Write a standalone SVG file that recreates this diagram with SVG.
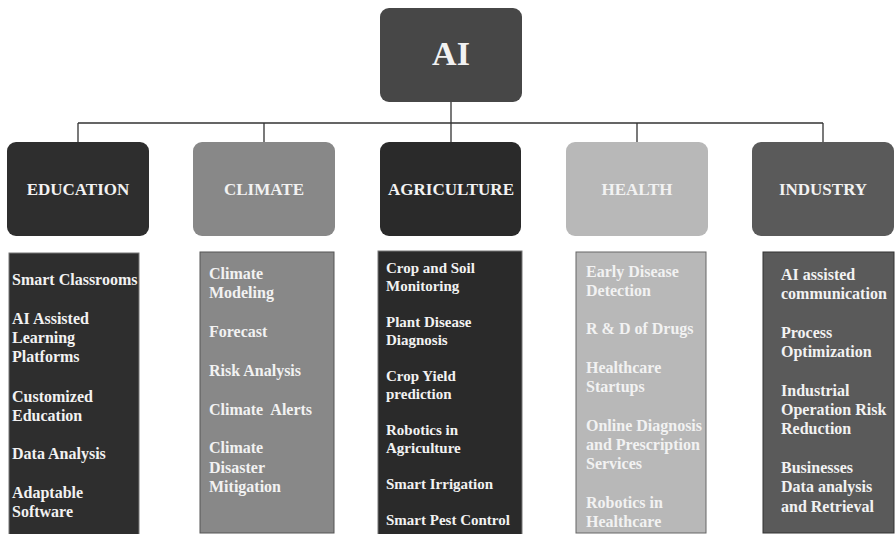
<svg xmlns="http://www.w3.org/2000/svg" width="895" height="534" viewBox="0 0 895 534">
<style>
text{font-family:"Liberation Serif","Times New Roman",serif;font-weight:bold;fill:#f2f2f2}
.cat{font-size:17px;text-anchor:middle}
.l16{font-size:16px}
.l15{font-size:15px}
.conn{stroke:#333;stroke-width:1.3;fill:none}
.list{stroke:#777;stroke-width:1}
</style>
<rect width="895" height="534" fill="#fff"/>
<g id="connectors">
<path class="conn" d="M451,102V123M78,123H823M78,123V142M264,123V142M451,123V142M637,123V142M823,123V142"/>
</g>
<g id="ai">
<rect x="380" y="8" width="142" height="94" rx="9" fill="#474747"/>
<text x="451" y="65" text-anchor="middle" style="font-size:34px">AI</text>
</g>
<g id="education">
<rect x="7" y="142" width="142" height="94" rx="9" fill="#2e2e2e"/>
<text class="cat" x="78" y="195">EDUCATION</text>
</g>
<g id="climate">
<rect x="193" y="142" width="142" height="94" rx="9" fill="#888888"/>
<text class="cat" x="264" y="195">CLIMATE</text>
</g>
<g id="agriculture">
<rect x="380" y="142" width="141" height="94" rx="9" fill="#2a2a2a"/>
<text class="cat" x="451" y="195">AGRICULTURE</text>
</g>
<g id="health">
<rect x="566" y="142" width="142" height="94" rx="9" fill="#b8b8b8"/>
<text class="cat" x="637" y="195">HEALTH</text>
</g>
<g id="industry">
<rect x="752" y="142" width="142" height="94" rx="9" fill="#5a5a5a"/>
<text class="cat" x="823" y="195">INDUSTRY</text>
</g>
<g id="education-list">
<rect class="list" x="9" y="253" width="130" height="290" fill="#2e2e2e"/>
<text class="l16" x="12">
<tspan x="12" y="285">Smart Classrooms</tspan>
<tspan x="12" y="324">AI Assisted</tspan>
<tspan x="12" y="343">Learning</tspan>
<tspan x="12" y="362">Platforms</tspan>
<tspan x="12" y="402">Customized</tspan>
<tspan x="12" y="421">Education</tspan>
<tspan x="12" y="459">Data Analysis</tspan>
<tspan x="12" y="498">Adaptable</tspan>
<tspan x="12" y="517">Software</tspan>
</text>
</g>
<g id="climate-list">
<rect x="200" y="252" width="134" height="281" fill="#888888" stroke="#555" stroke-width="1"/>
<text class="l16">
<tspan x="209" y="279">Climate</tspan>
<tspan x="209" y="298">Modeling</tspan>
<tspan x="209" y="337">Forecast</tspan>
<tspan x="209" y="376">Risk Analysis</tspan>
<tspan x="209" y="415" xml:space="preserve">Climate  Alerts</tspan>
<tspan x="209" y="453">Climate</tspan>
<tspan x="209" y="473">Disaster</tspan>
<tspan x="209" y="492">Mitigation</tspan>
</text>
</g>
<g id="agriculture-list">
<rect class="list" x="378" y="251" width="144" height="292" fill="#2a2a2a"/>
<text class="l15">
<tspan x="386" y="273">Crop and Soil</tspan>
<tspan x="386" y="291">Monitoring</tspan>
<tspan x="386" y="327">Plant Disease</tspan>
<tspan x="386" y="345">Diagnosis</tspan>
<tspan x="386" y="381">Crop Yield</tspan>
<tspan x="386" y="399">prediction</tspan>
<tspan x="386" y="435">Robotics in</tspan>
<tspan x="386" y="453">Agriculture</tspan>
<tspan x="386" y="489">Smart Irrigation</tspan>
<tspan x="386" y="525">Smart Pest Control</tspan>
</text>
</g>
<g id="health-list">
<rect x="576" y="252" width="130" height="281" fill="#b8b8b8" stroke="#666" stroke-width="1"/>
<text class="l16">
<tspan x="586" y="277">Early Disease</tspan>
<tspan x="586" y="296">Detection</tspan>
<tspan x="586" y="334">R &amp; D of Drugs</tspan>
<tspan x="586" y="373">Healthcare</tspan>
<tspan x="586" y="392">Startups</tspan>
<tspan x="586" y="431">Online Diagnosis</tspan>
<tspan x="586" y="450">and Prescription</tspan>
<tspan x="586" y="469">Services</tspan>
<tspan x="586" y="508">Robotics in</tspan>
<tspan x="586" y="527">Healthcare</tspan>
</text>
</g>
<g id="industry-list">
<rect x="763" y="252" width="131" height="281" fill="#5a5a5a" stroke="#333" stroke-width="1"/>
<text class="l16">
<tspan x="781" y="280">AI assisted</tspan>
<tspan x="781" y="299">communication</tspan>
<tspan x="781" y="338">Process</tspan>
<tspan x="781" y="357">Optimization</tspan>
<tspan x="781" y="396">Industrial</tspan>
<tspan x="781" y="415">Operation Risk</tspan>
<tspan x="781" y="434">Reduction</tspan>
<tspan x="781" y="473">Businesses</tspan>
<tspan x="781" y="492">Data analysis</tspan>
<tspan x="781" y="512">and Retrieval</tspan>
</text>
</g>
</svg>
